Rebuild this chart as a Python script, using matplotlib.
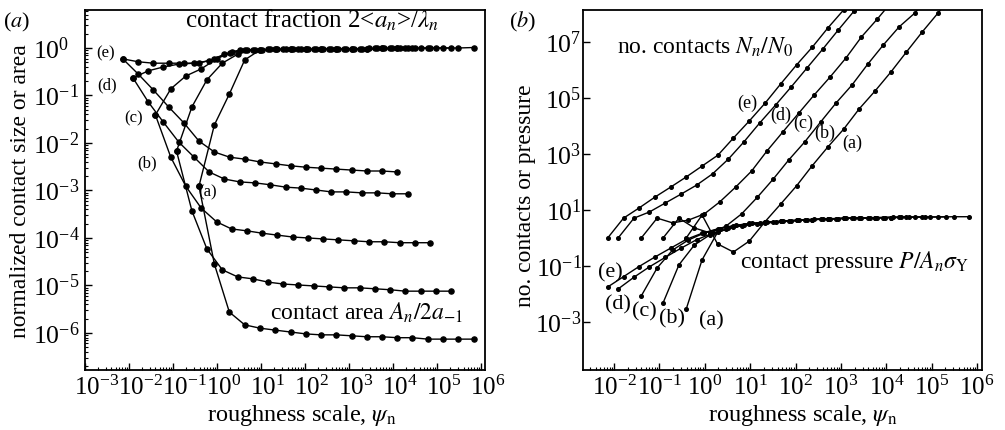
import numpy as np
import matplotlib
matplotlib.use("Agg")
import matplotlib.pyplot as plt
import matplotlib.transforms as mtrans
from matplotlib.ticker import LogLocator, FixedLocator, NullLocator, NullFormatter, LogFormatterMathtext

plt.rcParams['font.family'] = ['Liberation Serif', 'DejaVu Serif']
plt.rcParams['mathtext.fontset'] = 'stix'
plt.rcParams['font.size'] = 17

# ---------------- data (log10 values) ----------------
cases = ['e', 'd', 'c', 'b', 'a']

# log10 of roughness scale psi_n for each case
log_psi_e = [-2.14, -1.79, -1.45, -1.10, -0.75, -0.41, -0.06, 0.29, 0.63, 0.98, 1.33, 1.67, 2.02, 2.37, 2.71, 3.06, 3.41, 3.75, 4.10]
log_psi_d = [-1.91, -1.56, -1.22, -0.87, -0.52, -0.18, 0.17, 0.52, 0.86, 1.21, 1.56, 1.90, 2.25, 2.60, 2.94, 3.29, 3.64, 3.98, 4.33]
log_psi_c = [-1.40, -1.05, -0.71, -0.36, -0.01, 0.33, 0.68, 1.03, 1.37, 1.72, 2.07, 2.41, 2.76, 3.11, 3.45, 3.80, 4.15, 4.49, 4.84]
log_psi_b = [-0.92, -0.57, -0.23, 0.12, 0.47, 0.81, 1.16, 1.51, 1.85, 2.20, 2.55, 2.89, 3.24, 3.59, 3.93, 4.28, 4.63, 4.97, 5.32]
log_psi_a = [-0.41, -0.06, 0.28, 0.63, 0.98, 1.32, 1.67, 2.02, 2.36, 2.71, 3.06, 3.40, 3.75, 4.10, 4.44, 4.79, 5.14, 5.48, 5.83]

# (a) contact fraction 2<a_n>/lambda_n (log10)
log_frac_e = [-0.23, -0.29, -0.32, -0.32, -0.32, -0.32, -0.23, -0.11, -0.04, -0.04, -0.03, -0.03, -0.03, -0.03, -0.02, -0.02, -0.02, -0.01, -0.01]
log_frac_d = [-0.63, -0.48, -0.40, -0.34, -0.32, -0.27, -0.13, -0.04, -0.04, -0.03, -0.03, -0.03, -0.03, -0.02, -0.02, -0.02, -0.01, -0.01, -0.01]
log_frac_c = [-1.41, -0.86, -0.59, -0.44, -0.23, -0.08, -0.04, -0.04, -0.03, -0.03, -0.03, -0.02, -0.02, -0.02, -0.01, -0.01, -0.01, -0.01, 0.00]
log_frac_b = [-2.17, -1.24, -0.67, -0.32, -0.13, -0.04, -0.03, -0.03, -0.03, -0.03, -0.02, -0.02, -0.02, -0.01, -0.01, -0.01, -0.01, 0.00, 0.00]
log_frac_a = [-2.91, -1.62, -0.97, -0.25, -0.04, -0.03, -0.03, -0.03, -0.03, -0.02, -0.02, -0.02, -0.01, -0.01, -0.01, 0.00, 0.00, 0.00, 0.01]

# (a) contact area A_n/2a_-1 (log10)
log_area_e = [-0.23, -0.55, -0.88, -1.24, -1.58, -1.96, -2.19, -2.30, -2.34, -2.40, -2.44, -2.48, -2.51, -2.53, -2.55, -2.57, -2.59, -2.59, -2.61]
log_area_d = [-0.63, -1.14, -1.56, -1.98, -2.30, -2.61, -2.76, -2.82, -2.84, -2.88, -2.93, -2.95, -2.99, -3.03, -3.03, -3.05, -3.05, -3.07, -3.07]
log_area_c = [-1.41, -2.30, -2.91, -3.37, -3.66, -3.81, -3.85, -3.90, -3.94, -3.98, -4.00, -4.02, -4.04, -4.06, -4.08, -4.08, -4.10, -4.10, -4.10]
log_area_b = [-2.17, -3.43, -4.23, -4.67, -4.82, -4.86, -4.93, -4.97, -4.99, -5.01, -5.03, -5.05, -5.05, -5.07, -5.09, -5.12, -5.12, -5.12, -5.12]
log_area_a = [-2.91, -4.55, -5.56, -5.83, -5.90, -5.94, -5.98, -6.02, -6.04, -6.04, -6.06, -6.08, -6.08, -6.10, -6.10, -6.13, -6.13, -6.13, -6.13]

# (b) number of contacts N_n/N_0 (log10)
log_num_e = [0.00, 0.71, 1.07, 1.46, 1.82, 2.18, 2.57, 2.96, 3.57, 4.18, 4.82, 5.50, 6.18, 6.82, 7.50, 8.15, 8.80, 9.45, 10.10]
log_num_d = [0.00, 0.71, 0.93, 1.25, 1.57, 1.89, 2.29, 2.82, 3.43, 4.11, 4.75, 5.39, 6.07, 6.75, 7.43, 8.11, 8.75, 9.40, 10.05]
log_num_c = [0.00, 0.71, 0.54, 0.64, 0.86, 1.29, 1.82, 2.39, 3.11, 3.79, 4.46, 5.11, 5.75, 6.43, 7.18, 7.82, 8.50, 9.15, 9.80]
log_num_b = [0.00, 0.71, 0.36, 0.18, 0.43, 0.86, 1.46, 2.11, 2.79, 3.43, 4.14, 4.82, 5.46, 6.21, 6.89, 7.54, 8.04, 8.70, 9.35]
log_num_a = [0.00, 0.82, -0.21, -0.50, -0.11, 0.57, 1.21, 1.86, 2.57, 3.25, 3.89, 4.61, 5.25, 5.93, 6.64, 7.36, 8.04, 8.70, 9.35]

# (b) contact pressure P/A_n sigma_Y (log10)
log_pres_e = [-1.75, -1.38, -1.02, -0.68, -0.36, -0.05, 0.17, 0.33, 0.44, 0.52, 0.56, 0.59, 0.63, 0.66, 0.68, 0.70, 0.71, 0.72, 0.73]
log_pres_d = [-1.82, -1.40, -1.03, -0.69, -0.36, -0.06, 0.17, 0.34, 0.45, 0.53, 0.57, 0.61, 0.65, 0.67, 0.69, 0.71, 0.72, 0.73, 0.74]
log_pres_c = [-2.07, -1.07, -0.43, -0.07, 0.18, 0.33, 0.45, 0.52, 0.57, 0.61, 0.64, 0.67, 0.69, 0.71, 0.72, 0.73, 0.74, 0.75, 0.75]
log_pres_b = [-2.32, -0.96, -0.25, 0.12, 0.31, 0.44, 0.51, 0.56, 0.60, 0.64, 0.67, 0.69, 0.71, 0.72, 0.73, 0.74, 0.75, 0.75, 0.76]
log_pres_a = [-2.54, -0.78, 0.20, 0.40, 0.50, 0.55, 0.59, 0.63, 0.66, 0.68, 0.70, 0.71, 0.72, 0.73, 0.74, 0.75, 0.75, 0.76, 0.76]

# tick values
xticks_left = [1e-3, 1e-2, 1e-1, 1e0, 1e1, 1e2, 1e3, 1e4, 1e5, 1e6]
yticks_left = [1e-6, 1e-5, 1e-4, 1e-3, 1e-2, 1e-1, 1e0]
xticks_right = [1e-2, 1e-1, 1e0, 1e1, 1e2, 1e3, 1e4, 1e5, 1e6]
yticks_right = [1e-3, 1e-1, 1e1, 1e3, 1e5, 1e7]

log_psi = dict(e=log_psi_e, d=log_psi_d, c=log_psi_c, b=log_psi_b, a=log_psi_a)
log_frac = dict(e=log_frac_e, d=log_frac_d, c=log_frac_c, b=log_frac_b, a=log_frac_a)
log_area = dict(e=log_area_e, d=log_area_d, c=log_area_c, b=log_area_b, a=log_area_a)
log_num = dict(e=log_num_e, d=log_num_d, c=log_num_c, b=log_num_b, a=log_num_a)
log_pres = dict(e=log_pres_e, d=log_pres_d, c=log_pres_c, b=log_pres_b, a=log_pres_a)

# ---------------- figure ----------------
W, H = 1005, 430
fig = plt.figure(figsize=(W / 100, H / 100), dpi=100)
axL = fig.add_axes([85 / W, 1 - 370 / H, 400 / W, 360 / H])
axR = fig.add_axes([583 / W, 1 - 370 / H, 399 / W, 360 / H])

def P(v):
    return 10.0 ** np.asarray(v)

for k in cases:
    axL.plot(P(log_psi[k]), P(log_frac[k]), '-o', color='k', lw=1.0, ms=3.7)
    axL.plot(P(log_psi[k]), P(log_area[k]), '-o', color='k', lw=1.0, ms=3.7)
    axR.plot(P(log_psi[k]), P(log_num[k]), '-o', color='k', lw=1.0, ms=2.6)
    axR.plot(P(log_psi[k]), P(log_pres[k]), '-o', color='k', lw=1.0, ms=2.6)

for ax in (axL, axR):
    ax.set_xscale('log')
    ax.set_yscale('log')
    for s in ax.spines.values():
        s.set_linewidth(1.3)
    ax.xaxis.set_minor_locator(LogLocator(base=10, subs=np.arange(2, 10), numticks=30))
    ax.xaxis.set_minor_formatter(NullFormatter())
    ax.xaxis.set_major_formatter(LogFormatterMathtext())
    ax.tick_params(which='both', direction='in', top=False, right=False, labelsize=18)
    ax.tick_params(which='major', length=5, width=1.0)
    ax.tick_params(which='minor', length=2.5, width=0.8)
    ax.tick_params(axis='x', which='major', pad=4)
    ax.tick_params(axis='y', which='major', pad=2)

axL.set_xlim(1e-3, 10 ** 6.09)
axL.set_ylim(10 ** -6.78, 10 ** 0.8)
axL.xaxis.set_major_locator(FixedLocator(xticks_left))
axL.yaxis.set_major_locator(FixedLocator(yticks_left))
axL.yaxis.set_minor_locator(LogLocator(base=10, subs=np.arange(2, 10), numticks=30))
axL.yaxis.set_minor_formatter(NullFormatter())
axL.yaxis.set_major_formatter(LogFormatterMathtext())
axL.tick_params(axis='y', labelsize=18.5)

axR.set_xlim(10 ** -2.683, 10 ** 6.106)
axR.set_ylim(10 ** -4.714, 10 ** 8.143)
axR.xaxis.set_major_locator(FixedLocator(xticks_right))
axR.yaxis.set_major_locator(FixedLocator(yticks_right))
axR.yaxis.set_minor_locator(NullLocator())
axR.yaxis.set_major_formatter(LogFormatterMathtext())
axR.tick_params(axis='y', labelsize=18.5, pad=1)

# left panel: x labels centred on the base "10", y labels left-aligned
shift_x = mtrans.ScaledTranslation(-11 / 100, 0, fig.dpi_scale_trans)
for lab in axL.xaxis.get_majorticklabels():
    lab.set_horizontalalignment('left')
    lab.set_transform(lab.get_transform() + shift_x)
shift_y = mtrans.ScaledTranslation(-49.5 / 100, 0, fig.dpi_scale_trans)
for lab in axL.yaxis.get_majorticklabels():
    lab.set_horizontalalignment('left')
    lab.set_transform(lab.get_transform() + shift_y)

def ftext(x, y, s, **kw):
    kw.setdefault('ha', 'center')
    kw.setdefault('va', 'center')
    fig.text(x / W, 1 - y / H, s, **kw)

# panel labels
ftext(17, 22, r"($a$)", fontsize=16)
ftext(523, 22, r"($b$)", fontsize=16)

# axis labels
ftext(21, 191, "normalized contact size or area", rotation=90, fontsize=17)
ftext(525, 196, "no. contacts or pressure", rotation=90, fontsize=17)
ftext(302, 415, r"roughness scale, $\psi_\mathrm{n}$", fontsize=17.5)
ftext(803, 415, r"roughness scale, $\psi_\mathrm{n}$", fontsize=17.5)

# left panel annotations
ftext(185, 20, r"contact fraction 2<$a_n$>/$\lambda_n$", ha='left', fontsize=18)
ftext(270, 313, r"contact area $A_n/2a_{-1}$", ha='left', fontsize=17)
for lab, (x, y) in zip(['(e)', '(d)', '(c)', '(b)', '(a)'],
                       [(106, 53), (107, 85), (134, 118), (147, 163), (208, 192)]):
    ftext(x, y, lab, fontsize=12)

# right panel annotations
ftext(617, 47, r"no. contacts $N_n/N_0$", ha='left', fontsize=17)
ftext(740, 262, r"contact pressure $P/A_n\sigma_\mathrm{Y}$", ha='left', fontsize=17)
for lab, (x, y) in zip(['(e)', '(d)', '(c)', '(b)', '(a)'],
                       [(747, 103), (781, 115), (803, 123), (825, 133), (852, 143)]):
    ftext(x, y, lab, fontsize=13)
for lab, (x, y) in zip(['(e)', '(d)', '(c)', '(b)', '(a)'],
                       [(610, 273), (618, 305), (644, 312), (672, 319), (711, 321)]):
    ftext(x, y, lab, fontsize=16)

fig.savefig("out.png", dpi=100)
